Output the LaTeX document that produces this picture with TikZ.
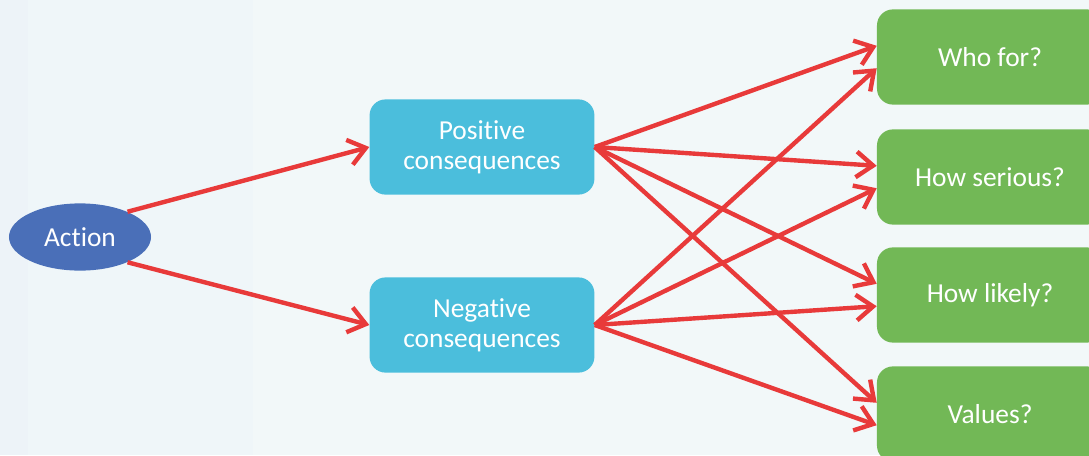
\documentclass[tikz,border=0pt]{standalone}
\usepackage{fontspec}
\setmainfont[Ligatures=NoCommon]{Carlito}
\usetikzlibrary{arrows.meta,positioning,shapes.geometric}
\definecolor{bgpale}{HTML}{EFF6F9}
\definecolor{bgleft}{HTML}{EDF3F8}
\definecolor{bgright}{HTML}{F2F8F9}
\definecolor{actblue}{HTML}{4A6FB8}
\definecolor{conscyan}{HTML}{4BBEDC}
\definecolor{qgreen}{HTML}{72B856}
\definecolor{linkred}{HTML}{E83A3A}
\tikzset{
  >={Straight Barb[length=4.2mm,width=6.4mm]},
  act/.style ={ellipse, fill=actblue, text=white, inner sep=0pt,
               minimum width=3.55cm, minimum height=1.68cm, font=\fontsize{19.5}{21.5}\selectfont},
  cons/.style={rounded corners=0.4cm, fill=conscyan, text=white, align=center,
               minimum width=5.62cm, minimum height=2.38cm, font=\fontsize{19.5}{21.5}\selectfont},
  qn/.style  ={rounded corners=0.4cm, fill=qgreen, text=white,
               minimum width=5.65cm, minimum height=2.38cm, font=\fontsize{19.5}{21.5}\selectfont},
  link/.style={->, draw=linkred, line width=0.11cm}
}
\begin{document}
\begin{tikzpicture}[x=0.025cm,y=-0.025cm]
% background
\useasboundingbox (0,0) rectangle (1089,455);
\clip (0,0) rectangle (1089,455);
\fill[bgpale] (0,0) rectangle (1089,455);
\fill[bgleft] (0,0) rectangle (28,455);
\fill[bgright] (253,0) rectangle (1089,455);

\node[act]  (action) at (80,237)  {Action};
\node[cons] (pos)    at (482,147) {Positive\\consequences};
\node[cons] (neg)    at (482,325) {Negative\\consequences};

\node[qn] (who) at (990,57)  {Who for?};
\node[qn] (ser) at (990,177) {How serious?};
\node[qn] (lik) at (990,295) {How likely?};
\node[qn] (val) at (990,414) {Values?};

\draw[link] (action.28)  -- (pos.west);
\draw[link] (action.-28) -- (neg.west);

\foreach \q in {who,ser,lik,val}{
  \draw[link] (pos.east) -- ([yshift=0.28cm]\q.west);
  \draw[link] (neg.east) -- ([yshift=-0.28cm]\q.west);
}
\end{tikzpicture}
\end{document}
